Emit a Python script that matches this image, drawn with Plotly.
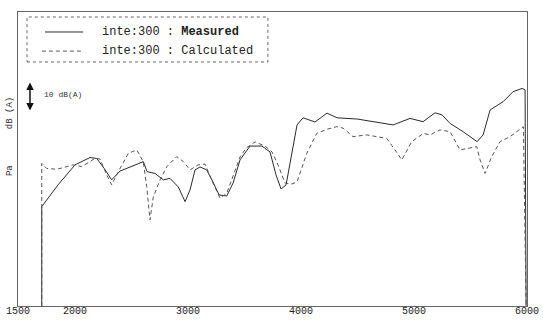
import plotly.graph_objects as go

# --- data ---
series_names = ["inte:300 : Measured", "inte:300 : Calculated"]

freq_measured = [1710, 1710, 1854, 2004, 2137, 2196, 2260, 2328, 2402, 2464, 2608, 2641, 2711,
                 2785, 2844, 2917, 2977, 3021, 3065, 3109, 3168, 3224, 3277, 3345, 3401, 3463,
                 3551, 3657, 3728, 3781, 3826, 3870, 3923, 3967, 4020, 4126, 4232, 4321, 4498,
                 4639, 4816, 4966, 5081, 5187, 5249, 5320, 5435, 5559, 5612, 5674, 5789, 5877,
                 5956, 5983, 5992]
db_measured = [0, 33.8, 41.2, 48.0, 50.5, 50.2, 46.9, 42.9, 45.9, 46.8, 49.1, 45.7, 45.1,
               42.9, 43.4, 40.5, 35.5, 39.5, 46.3, 47.3, 46.3, 42.2, 37.8, 37.4, 41.8, 49.7,
               54.4, 54.4, 52.4, 44.6, 39.8, 41.2, 53.1, 61.6, 64.0, 62.6, 65.6, 64.0, 63.6,
               62.6, 61.6, 63.8, 62.7, 65.7, 65.0, 62.1, 59.3, 55.9, 58.2, 66.7, 69.5, 72.9,
               74.0, 73.5, 0]

freq_calculated = [1710, 1710, 1754, 1845, 1986, 2063, 2181, 2225, 2284, 2328, 2387, 2475, 2550,
                   2608, 2638, 2667, 2696, 2756, 2815, 2903, 2962, 3021, 3092, 3153, 3224, 3286,
                   3345, 3392, 3463, 3516, 3596, 3684, 3746, 3799, 3861, 3920, 3967, 4053, 4141,
                   4230, 4318, 4374, 4462, 4583, 4672, 4760, 4833, 4893, 4931, 4981, 5084, 5143,
                   5231, 5320, 5408, 5467, 5556, 5585, 5629, 5688, 5762, 5850, 5923, 5968, 5992]
db_calculated = [0, 48.5, 46.8, 46.5, 48.0, 47.4, 50.2, 50.0, 44.6, 41.2, 45.7, 51.9, 53.1,
                 49.0, 40.6, 29.3, 37.1, 42.9, 47.4, 50.8, 49.1, 46.3, 48.0, 48.3, 41.8, 36.7,
                 38.3, 43.5, 50.7, 53.7, 55.8, 54.4, 52.4, 48.0, 41.8, 41.5, 42.2, 51.9, 58.7,
                 60.1, 61.0, 60.5, 57.6, 58.2, 57.6, 57.0, 53.1, 49.7, 52.4, 55.9, 58.7, 58.2,
                 59.9, 59.3, 53.1, 53.6, 54.2, 49.7, 45.1, 50.8, 55.9, 57.6, 59.9, 61.0, 0]

x_ticks = [1500, 2000, 3000, 4000, 5000, 6000]
x_tick_labels = ["1500", "2000", "3000", "4000", "5000", "6000"]
scale_bar_db = 10
scale_label = "10 dB(A)"
y_label_top = "dB (A)"
y_label_bottom = "Pa"

MONO = "Liberation Mono, Courier New, monospace"

fig = go.Figure()
fig.add_trace(go.Scatter(x=freq_measured, y=db_measured, mode="lines", name=series_names[0],
                         line=dict(color="#2a2a2a", width=1), showlegend=False))
fig.add_trace(go.Scatter(x=freq_calculated, y=db_calculated, mode="lines", name=series_names[1],
                         line=dict(color="#555555", width=1, dash="4px,3px"), showlegend=False))

# manual legend box (dashed border)
fig.add_shape(type="rect", xref="paper", yref="paper", x0=0.0177, x1=0.491, y0=0.830, y1=0.983,
              line=dict(color="#666666", width=1, dash="dot"))
fig.add_shape(type="line", xref="paper", yref="paper", x0=0.053, x1=0.128, y0=0.932, y1=0.932,
              line=dict(color="#2a2a2a", width=1))
fig.add_shape(type="line", xref="paper", yref="paper", x0=0.047, x1=0.128, y0=0.867, y1=0.867,
              line=dict(color="#555555", width=1, dash="4px,3px"))
fig.add_annotation(xref="paper", yref="paper", x=0.161, y=0.932, xanchor="left", yanchor="middle",
                   text="inte:300 : <b>Measured</b>", showarrow=False,
                   font=dict(family=MONO, size=12, color="#222222"))
fig.add_annotation(xref="paper", yref="paper", x=0.161, y=0.867, xanchor="left", yanchor="middle",
                   text="inte:300 : Calculated", showarrow=False,
                   font=dict(family=MONO, size=12, color="#222222"))

# 10 dB scale bar
fig.add_annotation(x=1606, y=66 + scale_bar_db, ax=1606, ay=66, axref="x", ayref="y",
                   xref="x", yref="y", text="", showarrow=True, arrowhead=2, arrowside="end+start",
                   arrowsize=1, arrowwidth=1.5, arrowcolor="#111111", standoff=0, startstandoff=0)
fig.add_annotation(x=1712, y=72.1, xanchor="left", yanchor="middle", text=scale_label,
                   showarrow=False, font=dict(family=MONO, size=8, color="#333333"))

# y-axis labels
fig.add_annotation(xref="paper", x=-0.0157, y=65.6, text=y_label_top, textangle=-90,
                   xanchor="center", yanchor="middle",
                   showarrow=False, font=dict(family=MONO, size=9, color="#333333"))
fig.add_annotation(xref="paper", x=-0.0157, y=45.9, text=y_label_bottom, textangle=-90,
                   xanchor="center", yanchor="middle",
                   showarrow=False, font=dict(family=MONO, size=9, color="#333333"))

# x tick labels (sit just under the frame, as in the reference)
for tv, tl in zip(x_ticks, x_tick_labels):
    fig.add_annotation(x=tv, xref="x", yref="paper", y=-0.018, text=tl, showarrow=False,
                       xanchor="center", yanchor="middle",
                       font=dict(family=MONO, size=10, color="#222222"))

fig.update_layout(
    width=543, height=321,
    margin=dict(l=18, r=16, t=12, b=15),
    paper_bgcolor="white", plot_bgcolor="white",
    xaxis=dict(range=[1500, 6000], showticklabels=False,
               showgrid=False, zeroline=False, showline=True, mirror=True,
               linecolor="#666666", linewidth=1, ticks="", automargin=False),
    yaxis=dict(range=[0, 100], showticklabels=False, showgrid=False, zeroline=False,
               showline=True, mirror=True, linecolor="#666666", linewidth=1, ticks="",
               automargin=False),
)

fig.write_html("out.html", config={"displayModeBar": False},
               post_script="document.body.style.margin='0';document.body.style.overflow='hidden';")
